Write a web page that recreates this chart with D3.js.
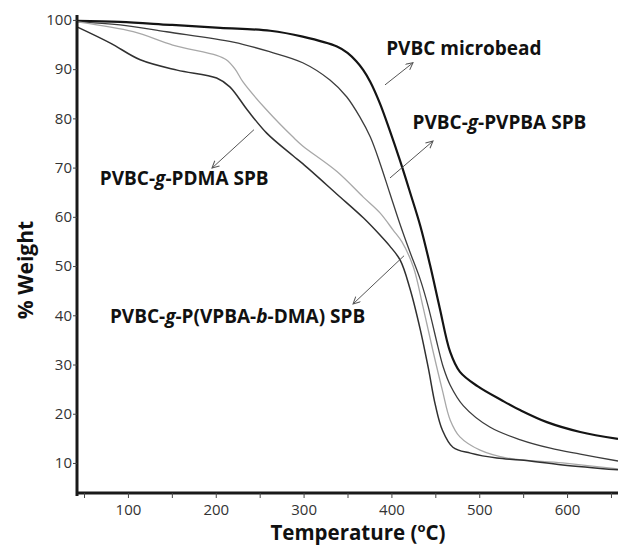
<!DOCTYPE html>
<html>
<head>
<meta charset="utf-8">
<script src="https://cdn.jsdelivr.net/npm/d3@7"></script>
<style>
  body { margin: 0; background: #fff; }
  svg { display: block; font-family: 'Open Sans', sans-serif; }
</style>
</head>
<body>
<div id="chart"></div>
<script>
// TGA curves (temperature in oC, weight in %)
const microbeadT = [42, 91, 148, 205, 262, 299, 338, 350, 360, 368, 376, 387, 398, 410, 421, 433, 444, 455, 467, 478, 498, 527, 547, 577, 615, 658];
const microbeadW = [99.8, 99.6, 99.0, 98.4, 97.8, 96.6, 94.6, 93.3, 91.6, 89.8, 87.4, 83.0, 77.6, 71.3, 65.1, 58.1, 50.2, 41.5, 32.5, 28.5, 25.6, 22.6, 20.7, 18.3, 16.3, 14.9];

const pvpbaT = [42, 91, 144, 220, 262, 299, 330, 349, 364, 376, 387, 398, 410, 421, 433, 442, 453, 459, 467, 482, 512, 547, 581, 615, 658];
const pvpbaW = [99.6, 99.0, 97.6, 95.5, 93.5, 91.3, 87.8, 84.4, 80.3, 76.2, 70.9, 64.9, 58.4, 52.9, 47.2, 41.7, 33.6, 29.5, 25.8, 21.6, 17.3, 14.7, 13.0, 11.8, 10.4];

const blockT = [42, 106, 151, 201, 212, 222, 231, 258, 288, 299, 338, 368, 387, 402, 412, 425, 436, 447, 458, 467, 478, 501, 532, 595, 658];
const blockW = [99.6, 97.6, 94.9, 92.8, 91.9, 90.0, 87.4, 81.7, 76.2, 74.4, 69.2, 64.0, 60.8, 57.3, 54.9, 49.8, 41.7, 33.0, 24.8, 18.7, 15.3, 12.6, 11.0, 10.0, 8.8];

const pdmaT = [42, 80, 114, 156, 201, 216, 236, 258, 288, 299, 338, 368, 387, 398, 410, 421, 433, 442, 450, 458, 470, 490, 520, 547, 595, 658];
const pdmaW = [98.6, 95.3, 91.9, 89.8, 88.2, 86.4, 81.7, 77.0, 72.4, 70.8, 64.6, 59.8, 56.3, 54.1, 51.2, 45.5, 37.0, 29.3, 21.8, 16.7, 13.2, 12.0, 11.0, 10.6, 9.6, 8.6];

const xTicks = [100, 200, 300, 400, 500, 600];
const xMinorTicks = [50, 150, 250, 350, 450, 550, 650];
const yTicks = [10, 20, 30, 40, 50, 60, 70, 80, 90, 100];

// labels: text between * is italic
const labelText = ['PVBC microbead', 'PVBC-*g*-PVPBA SPB', 'PVBC-*g*-PDMA SPB', 'PVBC-*g*-P(VPBA-*b*-DMA) SPB'];
const labelT = [394, 424, 68, 79.5];
const labelW = [92.9, 77.9, 66.5, 38.4];
const arrowFromT = [392.7, 398.4, 243.5, 414.4];
const arrowFromW = [86.8, 67.9, 77.7, 52.1];
const arrowToT = [424.6, 447.4, 195.7, 356.3];
const arrowToW = [91.3, 75.4, 69.9, 42.3];

const width = 618;
const height = 546;
const leftEdge = 77;
const bottomEdge = 493;

const svg = d3.select('#chart').append('svg').attr('width', width).attr('height', height);
svg.append('rect').attr('width', width).attr('height', height).attr('fill', '#fff');

const x = d3.scaleLinear().domain([42, 658]).range([leftEdge, width]);
const y = d3.scaleLinear().domain([3.9, 101]).range([bottomEdge, 15]);

const series = [
  {t: microbeadT, w: microbeadW, color: '#141414', size: 2.2},
  {t: pvpbaT, w: pvpbaW, color: '#3c3c3c', size: 1.3},
  {t: blockT, w: blockW, color: '#a8a8a8', size: 1.3},
  {t: pdmaT, w: pdmaW, color: '#303030', size: 1.5}
];

const line = d3.line().x(d => x(d[0])).y(d => y(d[1])).curve(d3.curveCatmullRom.alpha(0.5));

svg.append('g').selectAll('path').data(series).join('path')
  .attr('d', s => line(s.t.map((t, i) => [t, s.w[i]])))
  .attr('fill', 'none')
  .attr('stroke', s => s.color)
  .attr('stroke-width', s => s.size)
  .attr('stroke-linejoin', 'round');

// axes
const xAxis = svg.append('g').attr('transform', `translate(0,${bottomEdge})`)
  .call(d3.axisBottom(x).tickValues(xTicks).tickSize(5).tickPadding(6).tickFormat(d3.format('d')));
svg.append('g').attr('transform', `translate(0,${bottomEdge})`)
  .call(d3.axisBottom(x).tickValues(xMinorTicks).tickSize(5).tickFormat(''))
  .call(g => g.select('.domain').remove());
const yAxis = svg.append('g').attr('transform', `translate(${leftEdge},0)`)
  .call(d3.axisLeft(y).tickValues(yTicks).tickSize(4).tickPadding(1).tickSizeOuter(0));

svg.selectAll('.tick line').attr('stroke', '#444').attr('stroke-width', 1);
svg.selectAll('.domain').attr('stroke', '#1a1a1a').attr('stroke-width', 3);
xAxis.select('.domain').attr('d', `M${leftEdge},0H${width}`);
yAxis.select('.domain').attr('d', `M0,15V${bottomEdge + 3}`);
svg.selectAll('.tick text').attr('font-size', 15).attr('fill', '#333').attr('font-family', 'Open Sans');

// axis titles
svg.append('text')
  .attr('transform', 'translate(33,270) rotate(-90)')
  .attr('text-anchor', 'middle')
  .attr('font-size', 21).attr('font-weight', 'bold').attr('fill', '#111')
  .text('% Weight');

const xTitle = svg.append('text')
  .attr('x', 358).attr('y', 540)
  .attr('text-anchor', 'middle')
  .attr('font-size', 20.5).attr('font-weight', 'bold').attr('fill', '#111');
xTitle.append('tspan').text('Temperature (');
xTitle.append('tspan').attr('font-size', 13).attr('dy', -8).text('o');
xTitle.append('tspan').attr('dy', 8).text('C)');

// arrows
svg.append('defs').append('marker')
  .attr('id', 'head').attr('markerUnits', 'userSpaceOnUse')
  .attr('markerWidth', 10).attr('markerHeight', 10)
  .attr('refX', 8).attr('refY', 4).attr('orient', 'auto')
  .append('path').attr('d', 'M1,0.5 L8,4 L1,7.5').attr('fill', 'none').attr('stroke', '#555').attr('stroke-width', 1);

svg.append('g').selectAll('line').data(arrowFromT).join('line')
  .attr('x1', (d, i) => x(d)).attr('y1', (d, i) => y(arrowFromW[i]))
  .attr('x2', (d, i) => x(arrowToT[i])).attr('y2', (d, i) => y(arrowToW[i]))
  .attr('stroke', '#555').attr('stroke-width', 1)
  .attr('marker-end', 'url(#head)');

// labels
const labels = svg.append('g').selectAll('text').data(labelText).join('text')
  .attr('x', (d, i) => x(labelT[i])).attr('y', (d, i) => y(labelW[i]))
  .attr('font-size', 19).attr('font-weight', 'bold').attr('fill', '#111');
labels.each(function (d) {
  const t = d3.select(this);
  d.split('*').forEach((part, j) => {
    t.append('tspan').attr('font-style', j % 2 ? 'italic' : 'normal').text(part);
  });
});
</script>
</body>
</html>
